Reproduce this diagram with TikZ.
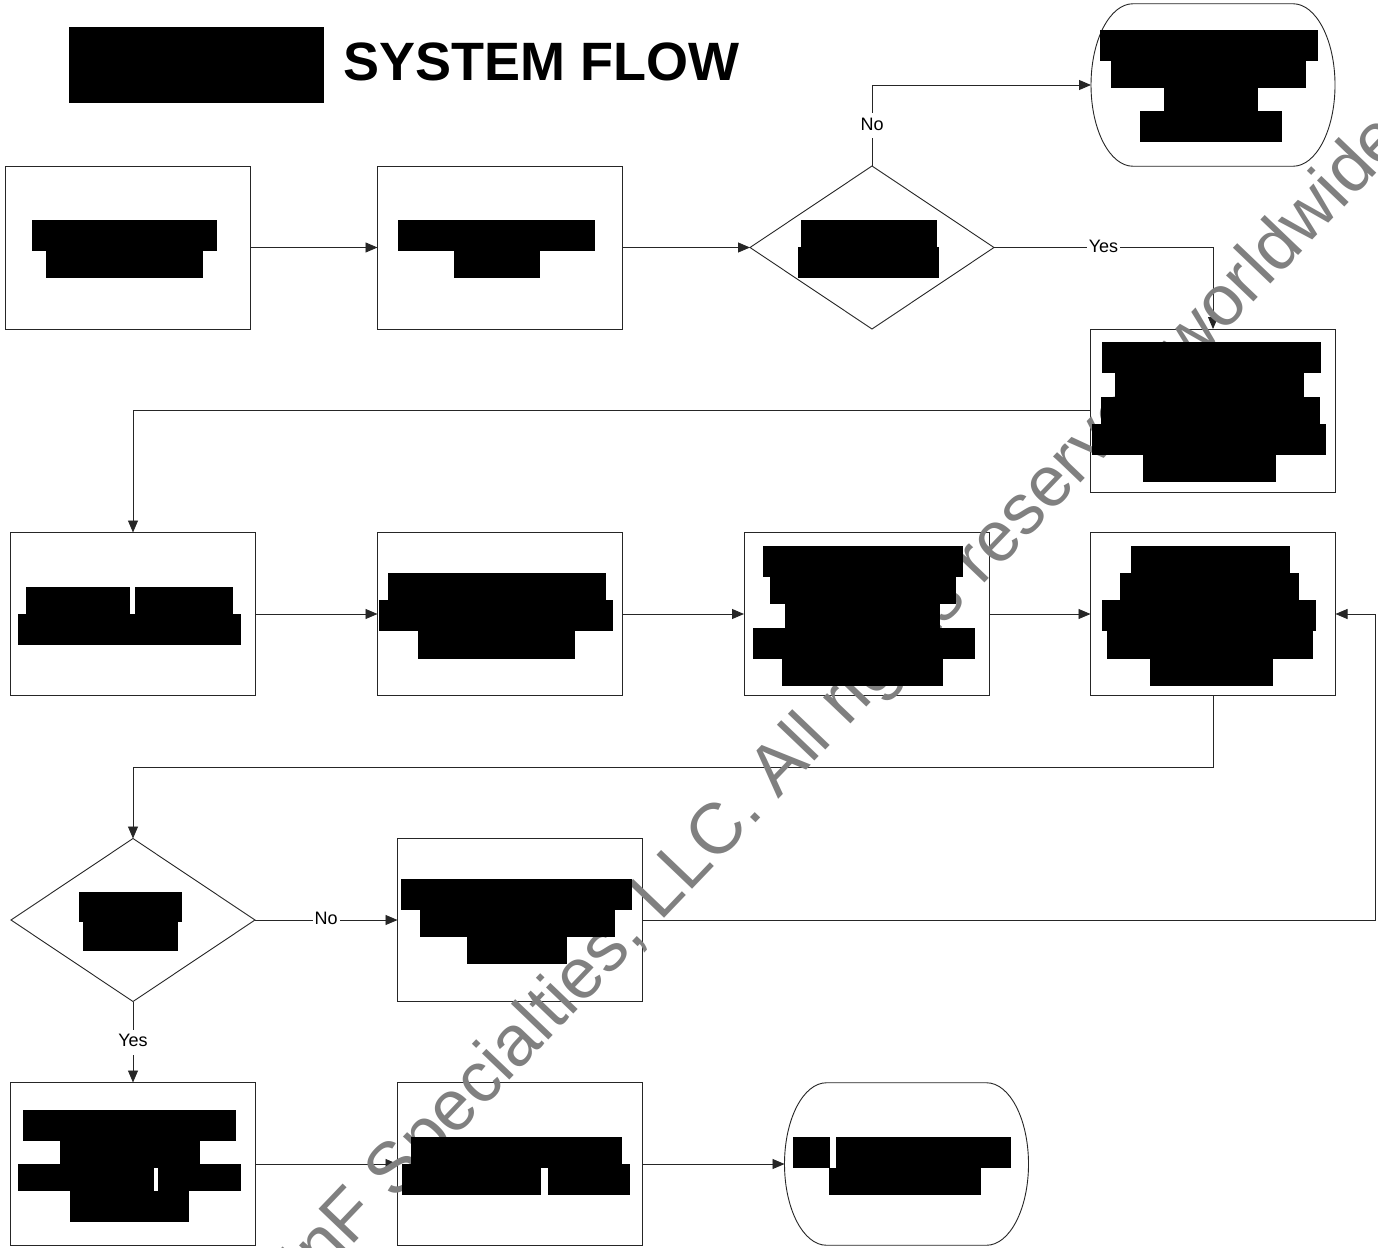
\documentclass[tikz,border=0pt]{standalone}
\usepackage{fontspec}
\setmainfont{Liberation Sans}
\usetikzlibrary{arrows.meta,shapes.geometric,calc}
\begin{document}
\begin{tikzpicture}[x=1pt,y=-1pt,
  ln/.style={draw=black!85,line width=0.9pt},
  box/.style={rectangle,ln,fill=white,minimum width=245pt,minimum height=163pt,inner sep=0pt,outer sep=0pt},
  dec/.style={diamond,ln,fill=white,aspect=1.5,minimum width=244pt,minimum height=163pt,inner sep=0pt,outer sep=0pt},
  term/.style={rectangle,minimum width=244pt,minimum height=162.5pt,inner sep=0pt,outer sep=0pt},
  conn/.style={ln,-{Triangle[length=12pt,width=10pt]}},
  lbl/.style={fill=white,inner xsep=2pt,inner ysep=4pt,text height=13pt,text depth=4pt,font=\fontsize{18}{18}\selectfont},
  bar/.style={fill=black},
  wm/.style={text=gray,inner sep=0pt,font=\fontsize{71.5}{71.5}\selectfont}
]
\clip (0,0) rectangle (1378,1247);
\fill[white] (0,0) rectangle (1378,1247);

% title
\node[anchor=base west,inner sep=0pt,font=\bfseries\fontsize{54}{54}\selectfont] (title) at (343,80.7) {SYSTEM FLOW};

% nodes
\node[box] (a) at (128,247.5) {};
\node[box] (b) at (500,247.5) {};
\node[dec] (d1) at (872,247.5) {};
\node[term] (t1) at (1213,85) {};
\node[box] (c) at (1213,410.5) {};
\node[box] (e) at (133,614) {};
\node[box] (f) at (500,614) {};
\node[box] (g) at (866.5,614) {};
\node[box] (h) at (1213,614) {};
\node[dec] (d2) at (133,920) {};
\node[box] (i) at (520,920) {};
\node[box] (j) at (133,1164) {};
\node[box] (k) at (520,1164) {};
\node[term] (t2) at (906.5,1164) {};

% terminator outlines
\foreach \t in {t1,t2}{
  \draw[ln,fill=white] ([xshift=42pt]\t.north west) -- ([xshift=-42pt]\t.north east)
    arc[start angle=90,end angle=-90,x radius=42pt,y radius=81.25pt]
    -- ([xshift=42pt]\t.south west)
    arc[start angle=270,end angle=90,x radius=42pt,y radius=81.25pt] -- cycle;
}

\coordinate (hb) at (1213,767);
\coordinate (rr) at (1375,920);

% connectors
\draw[conn] (a.east) -- (b.west);
\draw[conn] (b.east) -- (d1.west);
\draw[conn] (d1.north) |- node[lbl,pos=0.25]{No} (t1.west);
\draw[conn] (d1.east) -| node[lbl,pos=0.25]{Yes} (c.north);
\draw[conn] (c.west) -| (e.north);
\draw[conn] (e.east) -- (f.west);
\draw[conn] (f.east) -- (g.west);
\draw[conn] (g.east) -- (h.west);
\draw[conn] (h.south) -- (hb) -| (d2.north);
\draw[conn] (d2.east) -- node[lbl]{No} (i.west);
\draw[conn] (i.east) -- (rr) |- (h.east);
\draw[conn] (d2.south) -- node[lbl]{Yes} (j.north);
\draw[conn] (j.east) -- (k.west);
\draw[conn] (k.east) -- (t2.west);

% watermark
\node[wm,rotate=46.3] (wmark) at (845,703) {InF Specialties, LLC. All rights reserved worldwide};

% redaction bars
\fill[bar] (69,27) rectangle (324,103);
% A
\fill[bar] (32,220) rectangle (217,250.7);
\fill[bar] (45.8,250.7) rectangle (203,277.7);
% B
\fill[bar] (397.8,220) rectangle (595,250.7);
\fill[bar] (454,250.7) rectangle (540,277.7);
% D1
\fill[bar] (801,220) rectangle (937,247.3);
\fill[bar] (798,247.3) rectangle (939,277.7);
% T1
\fill[bar] (1100,30) rectangle (1317.7,60.7);
\fill[bar] (1111.4,60.7) rectangle (1305.5,87.7);
\fill[bar] (1163.5,87.7) rectangle (1257.5,111);
\fill[bar] (1140,111) rectangle (1282,141.7);
% C
\fill[bar] (1102,342) rectangle (1320.7,372.7);
\fill[bar] (1115,372.7) rectangle (1304,397);
\fill[bar] (1101,397) rectangle (1320,424);
\fill[bar] (1091.7,424) rectangle (1326,454.7);
\fill[bar] (1143,454.7) rectangle (1276,482);
% E
\fill[bar] (25.9,586.7) rectangle (129.5,614);
\fill[bar] (134.8,586.7) rectangle (233,614);
\fill[bar] (17.9,614) rectangle (241,645);
% F
\fill[bar] (388,572.7) rectangle (605.8,600);
\fill[bar] (378.6,600) rectangle (613,630.7);
\fill[bar] (417.9,630.7) rectangle (575,658.7);
% G
\fill[bar] (763,546) rectangle (962.9,576.7);
\fill[bar] (770,576.7) rectangle (956,603.7);
\fill[bar] (785,603.7) rectangle (940,628);
\fill[bar] (753,628) rectangle (975.4,658.7);
\fill[bar] (782,658.7) rectangle (943.4,685.7);
% H
\fill[bar] (1131,546) rectangle (1289.7,572.7);
\fill[bar] (1119.8,572.7) rectangle (1298.8,600);
\fill[bar] (1102,600) rectangle (1316,630.7);
\fill[bar] (1106.8,630.7) rectangle (1313,658.7);
\fill[bar] (1150,658.7) rectangle (1272.8,685.7);
% D2
\fill[bar] (79,891.7) rectangle (182,922.3);
\fill[bar] (83,922.3) rectangle (178,950.7);
% I
\fill[bar] (400.9,879.3) rectangle (632,910);
\fill[bar] (420,910) rectangle (615,937);
\fill[bar] (467.4,937) rectangle (567,964);
% J
\fill[bar] (23.4,1110) rectangle (236.4,1140.7);
\fill[bar] (59.6,1140.7) rectangle (200,1164);
\fill[bar] (18,1164) rectangle (241,1190.7);
\fill[white] (153.5,1168) rectangle (157.5,1190.7);
\fill[bar] (70.3,1190.7) rectangle (188.8,1221.7);
% K
\fill[bar] (411,1136.7) rectangle (622,1164);
\fill[bar] (401.8,1164) rectangle (630,1195);
\fill[white] (541,1168) rectangle (547.8,1195);
% T2
\fill[bar] (792.9,1136.7) rectangle (830,1168);
\fill[bar] (835.7,1136.7) rectangle (1011.2,1168);
\fill[bar] (829,1168) rectangle (981,1195);
\end{tikzpicture}
\end{document}
